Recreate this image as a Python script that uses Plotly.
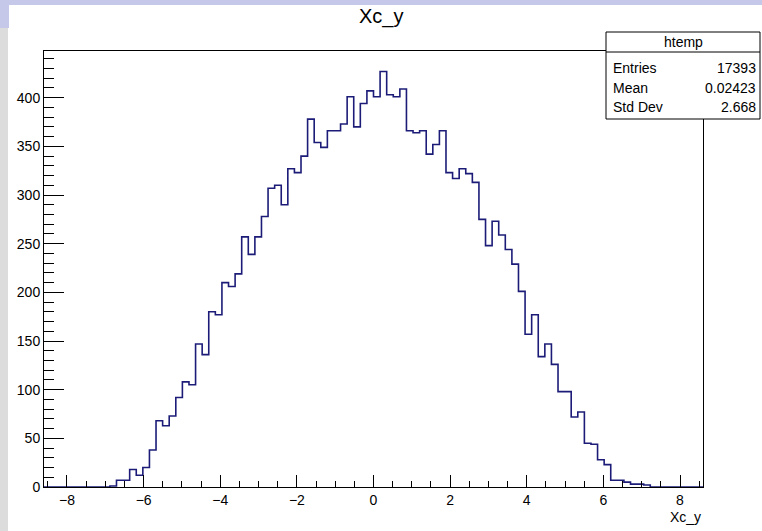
import numpy as np
import plotly.graph_objects as go

# ---- data (ROOT TH1 "htemp", 100 bins) ----
x_min = -8.6
x_max = 8.6
counts = [0, 0, 0, 0, 0, 0, 0, 0, 0, 0,
          1, 7, 7, 18, 12, 20, 38, 68, 63, 73,
          92, 108, 105, 147, 136, 180, 177, 210, 206, 219,
          257, 239, 257, 278, 307, 310, 290, 327, 323, 340,
          378, 354, 349, 366, 366, 373, 401, 370, 394, 407,
          401, 427, 403, 401, 409, 366, 364, 366, 342, 352,
          366, 323, 317, 327, 322, 313, 275, 248, 273, 259,
          244, 229, 201, 157, 177, 134, 147, 126, 98, 98,
          72, 77, 45, 44, 28, 23, 7, 7, 5, 3,
          3, 2, 0, 0, 0, 0, 0, 0, 0, 0]
x_ticks = [-8, -6, -4, -2, 0, 2, 4, 6, 8]
y_ticks = [0, 50, 100, 150, 200, 250, 300, 350, 400]
stats_labels = ["Entries", "Mean", "Std Dev"]
stats_values = ["17393", "0.02423", "2.668"]
hist_name = "htemp"
title = "Xc_y"

n = len(counts)
edges = np.linspace(x_min, x_max, n + 1)
xs = np.append(edges[:-1], edges[-1])
ys = np.append(counts, counts[-1])

W, H = 762, 531
L, R, T, B = 44, 703, 51, 487

def px(x):
    return (x - L) / (R - L)

def py(y):
    return (B - y) / (B - T)

fig = go.Figure()
fig.add_trace(go.Scatter(x=xs, y=ys, mode="lines", line=dict(color="#1c1c78", width=1.6, shape="hv"),
                         hoverinfo="skip", showlegend=False))

font = "Liberation Sans, Arial, sans-serif"
shapes = []
# window decoration bands
shapes.append(dict(type="rect", xref="paper", yref="paper", x0=px(0), x1=px(W), y0=py(0), y1=py(5),
                   fillcolor="#c5c8e8", line=dict(width=0), layer="below"))
shapes.append(dict(type="rect", xref="paper", yref="paper", x0=px(0), x1=px(9), y0=py(0), y1=py(28),
                   fillcolor="#c5c8e8", line=dict(width=0), layer="below"))
shapes.append(dict(type="rect", xref="paper", yref="paper", x0=px(0), x1=px(8), y0=py(28), y1=py(H),
                   fillcolor="#dcdcdc", line=dict(width=0), layer="below"))
# stats box
bx0, bx1, by0, by1, bh = 606, 760, 32, 119, 52
shapes.append(dict(type="rect", xref="paper", yref="paper", x0=px(bx0), x1=px(bx1), y0=py(by0), y1=py(by1),
                   fillcolor="white", line=dict(color="black", width=1), layer="above"))
shapes.append(dict(type="line", xref="paper", yref="paper", x0=px(bx0), x1=px(bx1), y0=py(bh), y1=py(bh),
                   line=dict(color="black", width=1), layer="above"))

annotations = []
annotations.append(dict(text=title, xref="paper", yref="paper", x=px(381), y=py(17), xanchor="center",
                        yanchor="middle", showarrow=False, font=dict(family=font, size=20, color="black")))
annotations.append(dict(text=title, xref="paper", yref="paper", x=px(703), y=py(517), xanchor="right",
                        yanchor="middle", showarrow=False, font=dict(family=font, size=14, color="black")))
annotations.append(dict(text=hist_name, xref="paper", yref="paper", x=px((bx0 + bx1) / 2), y=py(42),
                        xanchor="center", yanchor="middle", showarrow=False,
                        font=dict(family=font, size=14, color="black")))
row_y = [68, 88, 107]
for lab, val, ry in zip(stats_labels, stats_values, row_y):
    annotations.append(dict(text=lab, xref="paper", yref="paper", x=px(611), y=py(ry), xanchor="left",
                            yanchor="middle", showarrow=False, font=dict(family=font, size=14, color="black")))
    annotations.append(dict(text=val, xref="paper", yref="paper", x=px(758), y=py(ry), xanchor="right",
                            yanchor="middle", showarrow=False, font=dict(family=font, size=14, color="black")))

axis_common = dict(showline=True, linecolor="black", linewidth=1, mirror=True, ticks="inside",
                   tickcolor="black", tickwidth=1, showgrid=False, zeroline=False,
                   tickfont=dict(family=font, size=14, color="black"))

fig.update_layout(
    width=W, height=H,
    margin=dict(l=L, r=W - R, t=T, b=H - B, pad=0),
    paper_bgcolor="white", plot_bgcolor="white",
    shapes=shapes, annotations=annotations,
    xaxis=dict(range=[x_min, x_max], tickvals=x_ticks, ticklen=12,
               minor=dict(ticks="inside", ticklen=6, dtick=0.5, tick0=0, tickcolor="black", showgrid=False),
               **axis_common),
    yaxis=dict(range=[0, 448], tickvals=y_ticks, ticklen=20,
               minor=dict(ticks="inside", ticklen=10, dtick=10, tick0=0, tickcolor="black", showgrid=False),
               **axis_common),
)

fig.write_html("out.html", config={"displayModeBar": False},
               post_script="document.body.style.margin='0';document.body.style.overflow='hidden';")
